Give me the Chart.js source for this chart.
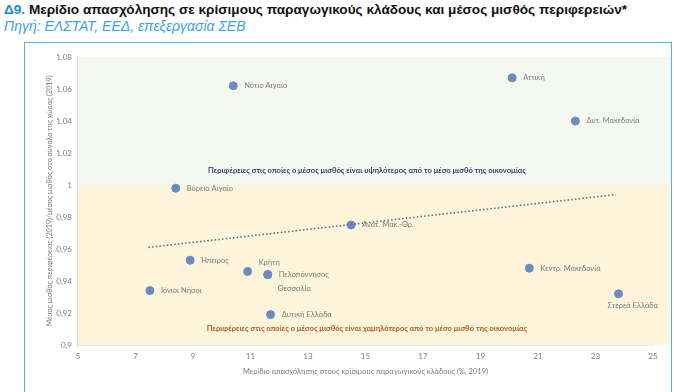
<!DOCTYPE html>
<html>
<head>
<meta charset="utf-8">
<script src="https://cdn.jsdelivr.net/npm/chart.js@4"></script>
<style>
  body { margin: 0; width: 674px; height: 392px; background: #fff; position: relative; overflow: hidden; }
  #title { position: absolute; left: 4px; top: 2px; font: bold 13.6px "Liberation Sans", Arial, sans-serif; color: #111; white-space: nowrap; }
  #title span { color: #1a8ad4; }
  #source { position: absolute; left: 4px; top: 18px; font: italic 14px "Liberation Sans", Arial, sans-serif; color: #3aa2dc; white-space: nowrap; }
  #box { position: absolute; left: 24px; top: 42px; width: 646px; height: 352px; border: 1.5px solid #4fb6df; }
  #wrap { position: absolute; left: 0; top: 0; width: 674px; height: 392px; }
</style>
</head>
<body>
<div id="title"><span>Δ9.</span> Μερίδιο απασχόλησης σε κρίσιμους παραγωγικούς κλάδους και μέσος μισθός περιφερειών*</div>
<div id="source">Πηγή: ΕΛΣΤΑΤ, ΕΕΔ, επεξεργασία ΣΕΒ</div>
<div id="box"></div>
<div id="wrap"><canvas id="chart" width="674" height="392"></canvas></div>
<script>
// regions, employment share in critical sectors (%) and relative wage
const regions = ["Νότιο Αιγαίο", "Αττική", "Δυτ. Μακεδονία", "Βόρειο Αιγαίο", "Ανατ. Μακ.-Θρ.", "Ήπειρος",
  "Κρήτη", "Πελοπόννησος", "Θεσσαλία", "Ιόνιοι Νήσοι", "Δυτική Ελλάδα", "Κεντρ. Μακεδονία", "Στερεά Ελλάδα"]
const share = [10.4, 20.1, 22.3, 8.4, 14.5, 8.9, 10.9, 11.6, 11.6, 7.5, 11.7, 20.7, 23.8]
const wage = [1.062, 1.067, 1.040, 0.998, 0.975, 0.953, 0.946, 0.944, 0.944, 0.934, 0.919, 0.948, 0.932]

// dotted trend line end points
const trendX = [7.45, 23.7]
const trendY = [0.961, 0.994]

const yTicks = [0.9, 0.92, 0.94, 0.96, 0.98, 1, 1.02, 1.04, 1.06, 1.08]
const xTicks = [5, 7, 9, 11, 13, 15, 17, 19, 21, 23, 25]

const upperText = "Περιφέρειες στις οποίες ο μέσος μισθός είναι υψηλότερος από το μέσο μισθό της οικονομίας"
const lowerText = "Περιφέρειες στις οποίες ο μέσος μισθός είναι χαμηλότερος από το μέσο μισθό της οικονομίας"

// where each label sits relative to its dot
const labelPlace = {
  "Κρήτη": {dx: 11, dy: -9},
  "Θεσσαλία": {dx: 10, dy: 14},
  "Στερεά Ελλάδα": {dx: -11, dy: 12},
}

const LABEL_FONT = '7.5px Lato'

const bands = {
  id: 'bands',
  beforeDatasetsDraw(chart) {
    const {ctx, chartArea, scales: {x, y}} = chart
    const right = chart.width - 4
    const y1 = y.getPixelForValue(1)
    ctx.save()
    ctx.fillStyle = '#f5f8f0'
    ctx.fillRect(chartArea.left, chartArea.top, right - chartArea.left, y1 - chartArea.top)
    ctx.fillStyle = '#fdf4dc'
    ctx.fillRect(chartArea.left, y1, right - chartArea.left, chartArea.bottom - y1)
    ctx.font = 'bold 7.6px Lato'
    ctx.textAlign = 'center'
    ctx.textBaseline = 'middle'
    ctx.fillStyle = '#2f3f6e'
    ctx.fillText(upperText, x.getPixelForValue(15.05), y.getPixelForValue(1.0088))
    ctx.fillStyle = '#b35a1f'
    ctx.fillText(lowerText, x.getPixelForValue(15.05), y.getPixelForValue(0.91))
    ctx.restore()
  }
}

const pointLabels = {
  id: 'pointLabels',
  afterDatasetsDraw(chart) {
    const {ctx} = chart
    const meta = chart.getDatasetMeta(1)
    ctx.save()
    ctx.font = LABEL_FONT
    ctx.fillStyle = '#7b7b7b'
    ctx.textBaseline = 'middle'
    ctx.textAlign = 'left'
    meta.data.forEach((pt, i) => {
      const p = labelPlace[regions[i]] || {dx: 11, dy: 0}
      ctx.fillText(regions[i], pt.x + p.dx, pt.y + p.dy)
    })
    ctx.restore()
  }
}

function fmt(v) {
  return String(Number(v.toFixed(2))).replace('.', ',')
}

new Chart(document.getElementById('chart'), {
  type: 'scatter',
  data: {
    datasets: [
      {
        type: 'line',
        data: trendX.map((x, i) => ({x: x, y: trendY[i]})),
        borderColor: '#5d6d88',
        borderWidth: 1.6,
        borderDash: [1.5, 2.2],
        pointRadius: 0,
        fill: false,
      },
      {
        data: share.map((x, i) => ({x: x, y: wage[i]})),
        backgroundColor: '#6c8bc2',
        borderColor: '#6c8bc2',
        pointRadius: 4,
      }
    ]
  },
  plugins: [bands, pointLabels],
  options: {
    responsive: false,
    animation: false,
    events: [],
    layout: { padding: { left: 45, top: 57, right: 21, bottom: 16 } },
    plugins: { legend: { display: false }, tooltip: { enabled: false } },
    scales: {
      x: {
        type: 'linear',
        min: 5,
        max: 25,
        afterFit: (s) => { s.height = 31 },
        afterBuildTicks: (s) => { s.ticks = xTicks.map(v => ({value: v})) },
        grid: { display: false, drawTicks: false },
        border: { display: true, color: '#d6d6d6', width: 1.5 },
        ticks: { color: '#7f7f7f', font: { family: 'Lato', size: 8 }, padding: 7, maxRotation: 0 },
        title: { display: true, text: 'Μερίδιο απασχόλησης στους κρίσιμους παραγωγικούς κλάδους (%, 2019)',
          color: '#7b7b7b', font: { family: 'Lato', size: 7.5 }, padding: 0 }
      },
      y: {
        min: 0.9,
        max: 1.08,
        afterFit: (s) => { s.width = 33 },
        afterBuildTicks: (s) => { s.ticks = yTicks.map(v => ({value: v})) },
        grid: { display: false, drawTicks: false },
        border: { display: true, color: '#d6d6d6', width: 1.5 },
        ticks: { color: '#7f7f7f', font: { family: 'Lato', size: 8 }, padding: 6, callback: (v) => fmt(v) },
        title: { display: true, text: 'Μέσος μισθός περιφέρειας (2019)/μέσος μισθός στο σύνολο της χώρας (2019)',
          color: '#7b7b7b', font: { family: 'Lato', size: 7.2 }, padding: 0 }
      }
    }
  }
})
</script>
</body>
</html>
